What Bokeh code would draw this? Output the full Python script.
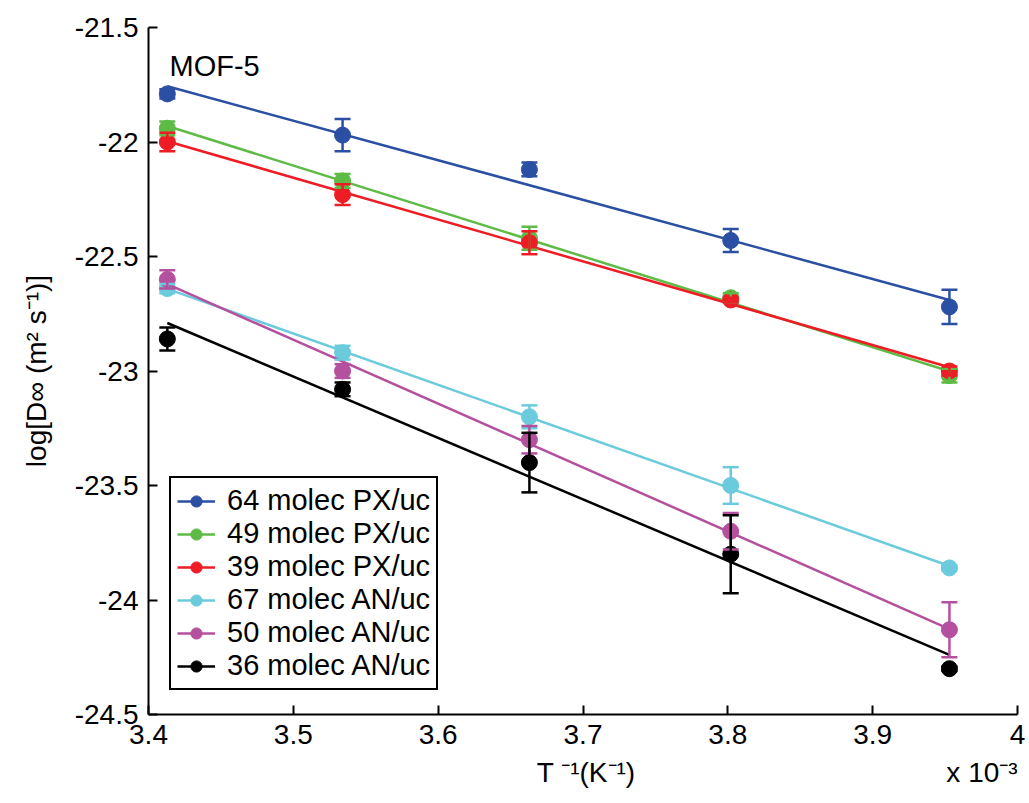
import numpy as np
from bokeh.plotting import figure
from bokeh.models import (Range1d, FixedTicker, ColumnDataSource, Whisker, TeeHead,
                          Legend, LegendItem, Label)
from bokeh.embed import file_html
from bokeh.resources import INLINE

# ---------------- data ----------------
inv_T = [3.413, 3.534, 3.663, 3.802, 3.953]  # x 10^-3 K^-1

labels = ["64 molec PX/uc", "49 molec PX/uc", "39 molec PX/uc",
          "67 molec AN/uc", "50 molec AN/uc", "36 molec AN/uc"]
colors = ["#2a4fa3", "#5dbb46", "#ee1c24", "#6bcbdc", "#b5509f", "#000000"]

pxa64 = [-21.79, -21.97, -22.12, -22.43, -22.72]
pxa49 = [-21.94, -22.17, -22.42, -22.68, -23.02]
pxa39 = [-22.00, -22.23, -22.44, -22.69, -23.00]
an67 = [-22.64, -22.92, -23.20, -23.50, -23.86]
an50 = [-22.60, -23.00, -23.30, -23.70, -24.13]
an36 = [-22.86, -23.08, -23.40, -23.80, -24.30]

err64 = [0.02, 0.07, 0.03, 0.05, 0.075]
err49 = [0.03, 0.03, 0.05, 0.02, 0.03]
err39 = [0.04, 0.045, 0.05, 0.01, 0.02]
err67 = [0.02, 0.03, 0.05, 0.08, 0.01]
err50 = [0.04, 0.03, 0.06, 0.08, 0.12]
err36 = [0.05, 0.03, 0.13, 0.17, 0.01]

series = [pxa64, pxa49, pxa39, an67, an50, an36]
errors = [err64, err49, err39, err67, err50, err36]

y_ticks = [-24.5, -24, -23.5, -23, -22.5, -22, -21.5]
y_tick_labels = ["-24.5", "-24", "-23.5", "-23", "-22.5", "-22", "-21.5"]
x_ticks = [3.4, 3.5, 3.6, 3.7, 3.8, 3.9, 4.0]
x_tick_labels = ["3.4", "3.5", "3.6", "3.7", "3.8", "3.9", "4"]

x_title = "T \u207b\u00b9(K\u207b\u00b9)"
x_scale_note = "x 10\u207b\u00b3"
y_title = "log[D\u221e (m\u00b2 s\u207b\u00b9)]"

FONT = "Liberation Sans"
NB = "\u00a0"

p = figure(width=1029, height=803, output_backend="svg", toolbar_location=None,
           x_range=Range1d(3.4, 4.0), y_range=Range1d(-24.5, -21.5),
           min_border_left=148, min_border_right=12, min_border_top=27, min_border_bottom=89)
p.outline_line_color = None
p.xgrid.visible = False
p.ygrid.visible = False
p.background_fill_color = "white"
p.border_fill_color = "white"

for ax in (p.xaxis[0], p.yaxis[0]):
    ax.axis_line_width = 2
    ax.axis_line_color = "black"
    ax.major_tick_in = 9
    ax.major_tick_out = 0
    ax.major_tick_line_width = 2
    ax.minor_tick_line_color = None
    ax.major_label_text_font = FONT
    ax.major_label_text_font_size = "28px"
    ax.major_label_text_color = "black"
    ax.axis_label_text_font = FONT
    ax.axis_label_text_font_size = "28px"
    ax.axis_label_text_font_style = "normal"
    ax.axis_label_text_color = "black"

p.xaxis.ticker = FixedTicker(ticks=x_ticks)
p.xaxis.major_label_overrides = dict(zip(x_ticks, x_tick_labels))
p.yaxis.ticker = FixedTicker(ticks=y_ticks)
p.yaxis.major_label_overrides = dict(zip(y_ticks, y_tick_labels))
p.xaxis.major_label_standoff = 10
p.yaxis.major_label_standoff = 10
# x-axis title centred, with the "x 10^-3" multiplier at the right end of the same line
p.xaxis.axis_label = NB * 50 + x_title + NB * 40 + x_scale_note
p.yaxis.axis_label = y_title
p.xaxis.axis_label_standoff = 10
p.yaxis.axis_label_standoff = 20

items = []
xs = np.array(inv_T)
for lab, col, ys, er in zip(labels, colors, series, errors):
    ys_a = np.array(ys)
    slope, icpt = np.polyfit(xs, ys_a, 1)
    fx = [xs[0], xs[-1]]
    fy = [slope * xs[0] + icpt, slope * xs[-1] + icpt]
    lr = p.line(fx, fy, line_color=col, line_width=2.5)
    src = ColumnDataSource(dict(x=inv_T, y=ys,
                                lo=list(ys_a - np.array(er)), hi=list(ys_a + np.array(er))))
    w = Whisker(base="x", lower="lo", upper="hi", source=src, line_color=col, line_width=2.5,
                upper_head=TeeHead(size=16, line_color=col, line_width=2.5),
                lower_head=TeeHead(size=16, line_color=col, line_width=2.5),
                level="glyph")
    p.add_layout(w)
    sr = p.scatter("x", "y", source=src, marker="circle", size=16,
                   fill_color=col, line_color=col)
    items.append(LegendItem(label=lab, renderers=[lr, sr]))

legend = Legend(items=items, location=(21, 24), border_line_color="black", border_line_width=2,
                border_line_alpha=1.0,
                label_text_font=FONT, label_text_font_size="29px", label_text_color="black",
                glyph_width=38, glyph_height=28, label_height=28, spacing=0,
                padding=6, margin=0, label_standoff=12, background_fill_alpha=1)
p.add_layout(legend, "center")

p.add_layout(Label(x=3.4145, y=-21.666, text="MOF-5", text_font=FONT, text_font_size="29px",
                   text_color="black", text_baseline="alphabetic"))

open("out.html", "w").write(file_html(p, INLINE))
